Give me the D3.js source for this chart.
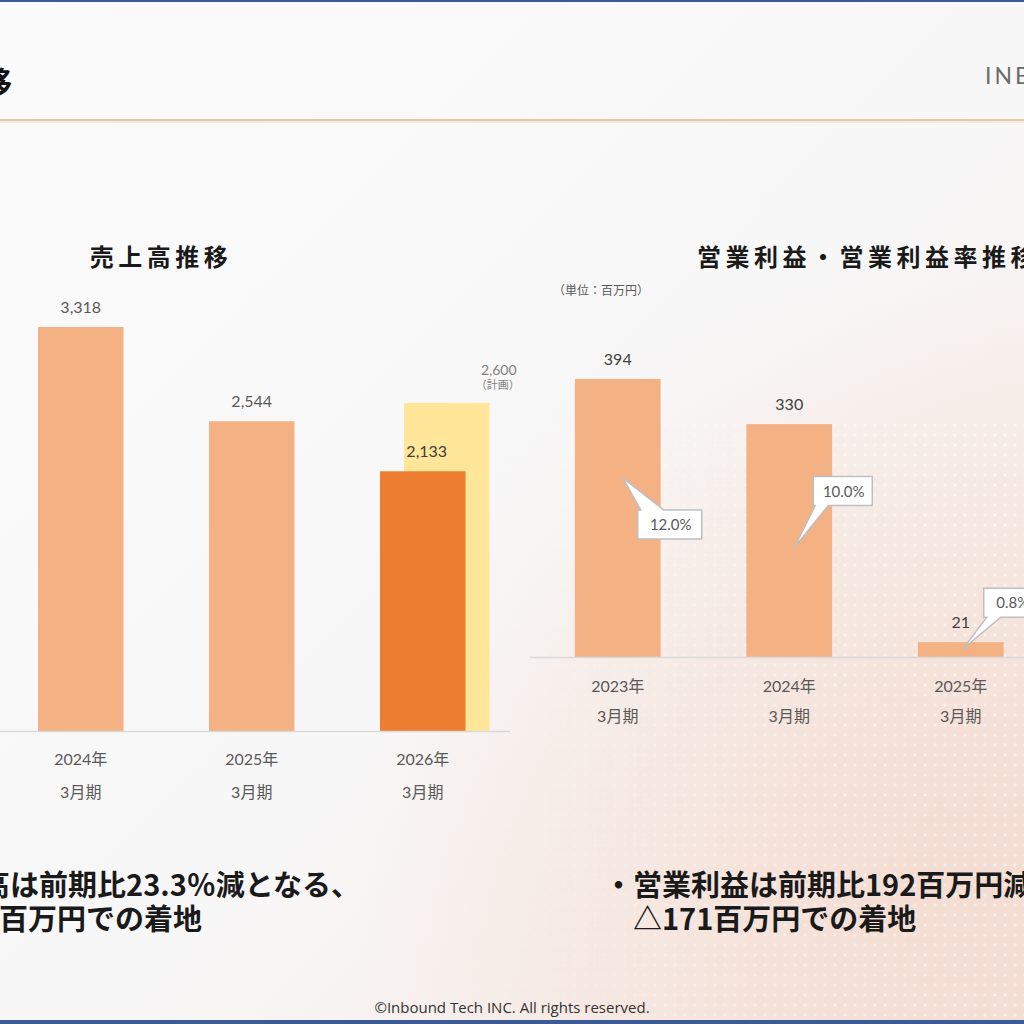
<!DOCTYPE html>
<html><head><meta charset="utf-8">
<script src="https://cdn.jsdelivr.net/npm/d3@7"></script>
<style>
html,body{margin:0;padding:0;background:#fafafb;}
svg{display:block;}
</style></head>
<body>
<svg id="c" width="1024" height="1024"></svg>
<script>
// ---- data ----
const salesCategories = ["2024年|3月期", "2025年|3月期", "2026年|3月期"];
const salesValues = [3318, 2544, 2133];
const salesLabels = ["3,318", "2,544", "2,133"];
const planCategory = "2026年|3月期";
const planValue = 2600;
const planLabel = "2,600";
const opCategories = ["2023年|3月期", "2024年|3月期", "2025年|3月期"];
const opValues = [394, 330, 21];
const opMargins = [12.0, 10.0, 0.8];
const marginLabels = ["12.0%", "10.0%", "0.8%"];

// ---- label layout (callout placement, not data) ----
const calloutLayout = [
  {tipFrac: 0.356, tipDx: 5, boxDx: 15, boxDy: 32, w: 64, side: "top", wb: [3, 26]},
  {tipFrac: 0.53, tipDx: 5, boxDx: 19, boxDy: -42, w: 59, side: "bottom", wb: [2, 15]},
  {tipFrac: 0.47, tipDx: 2, boxDx: 21, boxDy: -32, w: 56, side: "bottom", wb: [3, 17]}
];

const svg = d3.select("#c");
const defs = svg.append("defs");
const bg = defs.append("linearGradient").attr("id","bg").attr("x1","0").attr("y1","0").attr("x2","1").attr("y2","1");
bg.append("stop").attr("offset","0").attr("stop-color","#fbfbfc");
bg.append("stop").attr("offset","0.55").attr("stop-color","#f8f7f7");
bg.append("stop").attr("offset","1").attr("stop-color","#f6e6df");
const rg = defs.append("radialGradient").attr("id","rg").attr("cx","0.95").attr("cy","0.85").attr("r","0.6");
rg.append("stop").attr("offset","0").attr("stop-color","#f3d9cd").attr("stop-opacity",0.8);
rg.append("stop").attr("offset","1").attr("stop-color","#f3d9cd").attr("stop-opacity",0);
const pat = defs.append("pattern").attr("id","dots").attr("width",10).attr("height",10).attr("patternUnits","userSpaceOnUse");
pat.append("circle").attr("cx",5).attr("cy",5).attr("r",1.6).attr("fill","#ffffff");
const mg = defs.append("linearGradient").attr("id","mg").attr("x1","0").attr("y1","0").attr("x2","1").attr("y2","0");
mg.append("stop").attr("offset","0").attr("stop-color","#fff").attr("stop-opacity",0);
mg.append("stop").attr("offset","1").attr("stop-color","#fff").attr("stop-opacity",1);
const mask = defs.append("mask").attr("id","dm");
mask.append("rect").attr("x",420).attr("y",420).attr("width",604).attr("height",604).attr("fill","url(#mg)");

svg.append("rect").attr("width",1024).attr("height",1024).attr("fill","url(#bg)");
svg.append("rect").attr("width",1024).attr("height",1024).attr("fill","url(#rg)");
svg.append("rect").attr("x",420).attr("y",420).attr("width",604).attr("height",600).attr("fill","url(#dots)").attr("opacity",0.55).attr("mask","url(#dm)");

// borders & header
svg.append("rect").attr("x",0).attr("y",0).attr("width",1024).attr("height",2).attr("fill","#3c5a93");
svg.append("rect").attr("x",0).attr("y",1020).attr("width",1024).attr("height",4).attr("fill","#3c5a93");
svg.append("rect").attr("x",0).attr("y",119).attr("width",1024).attr("height",2).attr("fill","#e3c9a2");
svg.append("rect").attr("x",0).attr("y",121).attr("width",1024).attr("height",2).attr("fill","#f3ebe0");
svg.append("text").attr("x",12).attr("y",93).attr("text-anchor","end")
  .attr("font-family","'Noto Sans CJK JP'").attr("font-weight",700).attr("font-size",30).attr("fill","#111").text("推移");
svg.append("text").attr("x",985).attr("y",84)
  .attr("font-family","Lato, 'Open Sans', sans-serif").attr("font-size",23).attr("letter-spacing",3).attr("fill","#6a6a6a").text("INBOUND");

const cjk = "'Noto Sans CJK JP', sans-serif";
const num = "Lato, 'Noto Sans CJK JP', sans-serif";

function catLabels(g, x, cats, y1, y2) {
  cats.forEach(c => {
    const [a, b] = c.split("|");
    const cx = x(c) + x.bandwidth() / 2;
    g.append("text").attr("x", cx).attr("y", y1).attr("text-anchor","middle")
      .attr("font-family",num).attr("font-size",16).attr("fill","#595959").text(a);
    g.append("text").attr("x", cx).attr("y", y2).attr("text-anchor","middle")
      .attr("font-family",num).attr("font-size",16).attr("fill","#595959").text(b);
  });
}

// ---- left chart: 売上高推移 ----
const L = svg.append("g");
const xL = d3.scaleBand().domain(salesCategories).range([-4.75, 508.25]).paddingInner(0.5).paddingOuter(0.25);
const yL = d3.scaleLinear().domain([0, 3400]).range([731, 317]);
const yPlan = d3.scaleLinear().domain([0, 3400]).range([731, 302]);
L.append("text").attr("x",161).attr("y",266).attr("text-anchor","middle")
  .attr("font-family",cjk).attr("font-weight",700).attr("font-size",24).attr("letter-spacing",4.5).attr("fill","#1a1a1a").text("売上高推移");
// plan bar (behind)
L.append("rect").attr("x", xL(planCategory) + 24).attr("y", yPlan(planValue))
  .attr("width", xL.bandwidth()).attr("height", yPlan(0) - yPlan(planValue)).attr("fill","#ffe699");
L.append("text").attr("x", xL(planCategory) + xL.bandwidth()/2 + 76).attr("y", yPlan(planValue) - 28).attr("text-anchor","middle")
  .attr("font-family",num).attr("font-size",14).attr("fill","#7f7f7f").text(planLabel);
L.append("text").attr("x", xL(planCategory) + xL.bandwidth()/2 + 75).attr("y", yPlan(planValue) - 14).attr("text-anchor","middle")
  .attr("font-family",cjk).attr("font-size",11).attr("fill","#7f7f7f").text("（計画）");
L.selectAll("rect.bar").data(salesValues).join("rect").attr("class","bar")
  .attr("x",(d,i)=>xL(salesCategories[i])).attr("y",d=>yL(d))
  .attr("width",xL.bandwidth()).attr("height",d=>yL(0)-yL(d))
  .attr("fill",(d,i)=> salesCategories[i]===planCategory ? "#ed7d31" : "#f4b183");
L.selectAll("text.val").data(salesValues).join("text").attr("class","val")
  .attr("x",(d,i)=>xL(salesCategories[i]) + xL.bandwidth()/2 + (salesCategories[i]===planCategory?4:0))
  .attr("y",d=>yL(d)-14).attr("text-anchor","middle")
  .attr("font-family",num).attr("font-size",16).attr("fill",(d,i)=> salesCategories[i]===planCategory ? "#404040" : "#595959")
  .text((d,i)=>salesLabels[i]);
L.append("line").attr("x1",0).attr("x2",510).attr("y1",yL(0)+0.5).attr("y2",yL(0)+0.5).attr("stroke","#d9d9d9").attr("stroke-width",1.5);
catLabels(L, xL, salesCategories, 765, 798);

// ---- right chart: 営業利益・営業利益率推移 ----
const R = svg.append("g");
const xR = d3.scaleBand().domain(opCategories).range([532, 1046.5]).paddingInner(0.5).paddingOuter(0.25);
const yR = d3.scaleLinear().domain([0, 420]).range([657, 360.6]);
R.append("text").attr("x",697).attr("y",266)
  .attr("font-family",cjk).attr("font-weight",700).attr("font-size",24).attr("letter-spacing",4.5).attr("fill","#1a1a1a").text("営業利益・営業利益率推移");
R.append("text").attr("x",553).attr("y",295)
  .attr("font-family",cjk).attr("font-size",12).attr("fill","#595959").text("（単位：百万円）");
R.selectAll("rect.bar").data(opValues).join("rect").attr("class","bar")
  .attr("x",(d,i)=>xR(opCategories[i])).attr("y",d=>yR(d))
  .attr("width",xR.bandwidth()).attr("height",d=>yR(0)-yR(d)).attr("fill","#f4b183");
R.selectAll("text.val").data(opValues).join("text").attr("class","val")
  .attr("x",(d,i)=>xR(opCategories[i]) + xR.bandwidth()/2)
  .attr("y",d=>yR(d)-14).attr("text-anchor","middle")
  .attr("font-family",num).attr("font-size",16).attr("fill","#404040").text(d=>d3.format(",")(d));
R.append("line").attr("x1",530).attr("x2",1024).attr("y1",yR(0)+0.5).attr("y2",yR(0)+0.5).attr("stroke","#d9d9d9").attr("stroke-width",1.5);
catLabels(R, xR, opCategories, 692, 722);

// callouts
opMargins.forEach((m, i) => {
  const lay = calloutLayout[i];
  const top = yR(opValues[i]);
  const tx = xR(opCategories[i]) + xR.bandwidth()/2 + lay.tipDx;
  const ty = top + (yR(0) - top) * lay.tipFrac;
  const h = 29;
  const bx = tx + lay.boxDx;
  let by, p;
  if (lay.side === "top") {
    by = ty + lay.boxDy;
    p = `M${bx},${by} L${bx+lay.wb[0]},${by} L${tx},${ty} L${bx+lay.wb[1]},${by} L${bx+lay.w},${by} L${bx+lay.w},${by+h} L${bx},${by+h} Z`;
  } else {
    by = ty + lay.boxDy - h;
    const bb = by + h;
    p = `M${bx},${by} L${bx+lay.w},${by} L${bx+lay.w},${bb} L${bx+lay.wb[1]},${bb} L${tx},${ty} L${bx+lay.wb[0]},${bb} L${bx},${bb} Z`;
  }
  R.append("path").attr("d",p).attr("fill","#ffffff").attr("stroke","#bfbfbf").attr("stroke-width",1.5).attr("stroke-linejoin","miter");
  R.append("text").attr("x",bx + lay.w/2 + 1).attr("y",by + h/2 + 5.5).attr("text-anchor","middle")
    .attr("font-family",num).attr("font-size",15).attr("fill","#595959").text(marginLabels[i]);
});

// ---- bottom comments ----
const bt = {"font-family":"'Liberation Sans Narrow', 'Noto Sans CJK JP', sans-serif","font-weight":700,"font-size":29,"fill":"#1a1a1a"};
function t(x,y,anchor,s){const e=svg.append("text").attr("x",x).attr("y",y).attr("text-anchor",anchor);Object.entries(bt).forEach(([k,v])=>e.attr(k,v));e.text(s);}
t(360, 896, "end", "・売上高は前期比23.3％減となる、");
t(202, 930, "end", "　　百万円での着地");
t(604, 896, "start", "・営業利益は前期比192百万円減");
t(633, 930, "start", "△171百万円での着地");

svg.append("text").attr("x",512).attr("y",1013).attr("text-anchor","middle")
  .attr("font-family","'Liberation Sans Narrow', 'Open Sans', sans-serif").attr("font-size",15).attr("fill","#333")
  .text("©Inbound Tech INC. All rights reserved.");
</script>
</body></html>
